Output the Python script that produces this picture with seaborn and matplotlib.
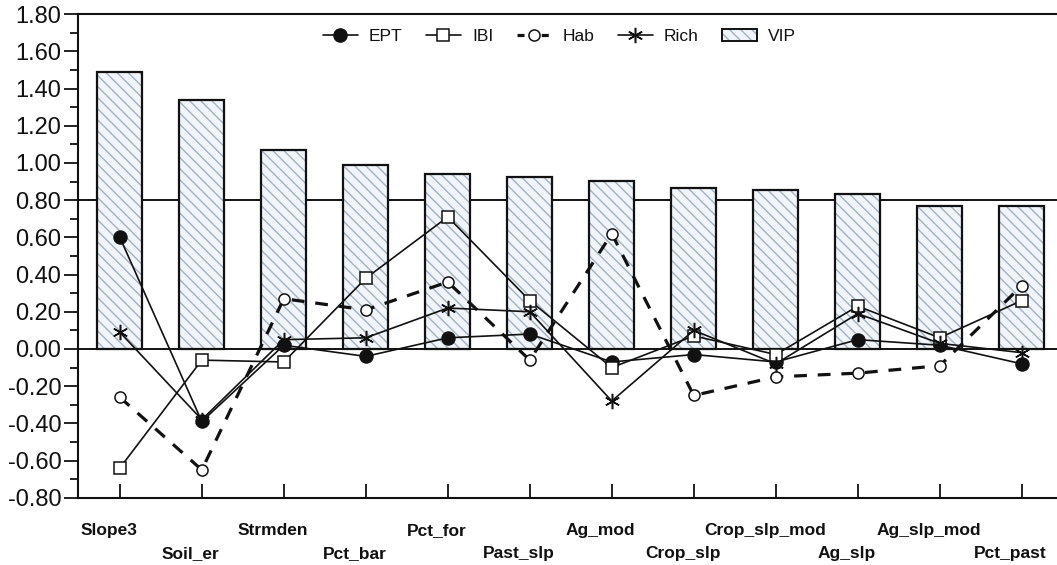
import numpy as np
import pandas as pd
import matplotlib
matplotlib.use("Agg")
import matplotlib.pyplot as plt
import matplotlib.patches as mpatches
import matplotlib.lines as mlines
import matplotlib.transforms as mtransforms
from matplotlib.legend_handler import HandlerTuple
from matplotlib.ticker import MultipleLocator, FormatStrFormatter
import seaborn as sns

# Predictor variables (ordered by VIP)
predictors = ["Slope3", "Soil_er", "Strmden", "Pct_bar", "Pct_for", "Past_slp",
              "Ag_mod", "Crop_slp", "Crop_slp_mod", "Ag_slp", "Ag_slp_mod", "Pct_past"]

# Variable importance in projection
vip = [1.49, 1.34, 1.07, 0.99, 0.94, 0.925, 0.905, 0.865, 0.852, 0.834, 0.77, 0.77]

# PLS coefficients for each response
ept = [0.60, -0.39, 0.02, -0.04, 0.06, 0.08, -0.07, -0.03, -0.07, 0.05, 0.02, -0.08]
ibi = [-0.64, -0.06, -0.07, 0.38, 0.71, 0.26, -0.10, 0.07, -0.03, 0.23, 0.06, 0.26]
hab = [-0.26, -0.65, 0.27, 0.21, 0.36, -0.06, 0.62, -0.25, -0.15, -0.13, -0.09, 0.34]
rich = [0.09, -0.38, 0.05, 0.06, 0.22, 0.20, -0.28, 0.10, -0.08, 0.19, 0.03, -0.02]

sns.set_style("ticks")
plt.rcParams["font.family"] = ["Liberation Sans", "DejaVu Sans"]
plt.rcParams["axes.unicode_minus"] = False
plt.rcParams["hatch.linewidth"] = 1.0

fig = plt.figure(figsize=(10.57, 5.65), dpi=100)
ax = fig.add_axes([0.0738, 0.119, 0.9262, 0.856])

bar_face = "#f1f5f9"
hatch_col = "#a3b1c0"
ink = "#111111"
hab_dash = (0, (4, 3.4))

# reference lines at 0 and at the VIP threshold of 0.8
ax.axhline(0.0, color=ink, lw=1.4, zorder=1)
ax.axhline(0.8, color=ink, lw=1.4, zorder=1)

df_vip = pd.DataFrame({"var": predictors, "vip": vip})

# hatched fill of the VIP bars
sns.barplot(data=df_vip, x="var", y="vip", order=predictors, color=bar_face,
            width=0.55, linewidth=0, edgecolor=hatch_col, saturation=1,
            ax=ax, zorder=2)
for p in ax.patches:
    p.set_hatch("\\\\\\")
    p.set_edgecolor(hatch_col)
    p.set_linewidth(0)
# black outline of the VIP bars
sns.barplot(data=df_vip, x="var", y="vip", order=predictors, fill=False,
            width=0.55, linewidth=1.6, edgecolor=ink, ax=ax, zorder=2.5)

common = dict(x=predictors, order=predictors, color=ink, ax=ax, errorbar=None)
sns.pointplot(y=ept, marker="o", markersize=9.5, markerfacecolor=ink,
              markeredgecolor=ink, linewidth=1.2, linestyle="-", **common)
sns.pointplot(y=ibi, marker="s", markersize=8, markerfacecolor="white",
              markeredgecolor=ink, markeredgewidth=1.1, linewidth=1.2,
              linestyle="-", **common)
sns.pointplot(y=hab, marker="o", markersize=8, markerfacecolor="white",
              markeredgecolor=ink, markeredgewidth=1.1, linewidth=2.3,
              linestyle=hab_dash, **common)
sns.pointplot(y=rich, marker=(6, 2, 0), markersize=11, markeredgecolor=ink,
              markeredgewidth=1.1, linewidth=1.2, linestyle="-", **common)

for ln in ax.lines[2:]:
    ln.set_zorder(4)

ax.set_xlim(-0.51, 11.43)
ax.set_ylim(-0.8, 1.8)
ax.set_xlabel("")
ax.set_ylabel("")

# y axis: major ticks every 0.2, minor every 0.1
ax.yaxis.set_major_locator(MultipleLocator(0.2))
ax.yaxis.set_minor_locator(MultipleLocator(0.1))
ax.yaxis.set_major_formatter(FormatStrFormatter("%.2f"))
ax.tick_params(axis="y", which="major", direction="out", length=10, width=1.3,
               labelsize=17, pad=2, colors=ink)
ax.tick_params(axis="y", which="minor", direction="out", length=6, width=1.3,
               colors=ink)

# x axis: inward ticks, labels staggered on two rows
ax.set_xticks(range(len(predictors)))
ax.set_xticklabels(predictors, fontweight="bold", fontsize=12.5)
ax.tick_params(axis="x", which="major", direction="in", length=10, width=1.3,
               colors=ink)
for i, tk in enumerate(ax.xaxis.get_major_ticks()):
    tk.set_pad(18 if i % 2 == 0 else 35)
shift = mtransforms.ScaledTranslation(-11 / 100, 0, fig.dpi_scale_trans)
for lbl in ax.get_xticklabels():
    lbl.set_transform(lbl.get_transform() + shift)

for side in ["left", "bottom", "top"]:
    ax.spines[side].set_color(ink)
    ax.spines[side].set_linewidth(1.5)
ax.spines["right"].set_visible(False)

# legend
h_ept = mlines.Line2D([], [], color=ink, lw=1.2, marker="o", markersize=9.5,
                      markerfacecolor=ink)
h_ibi = mlines.Line2D([], [], color=ink, lw=1.2, marker="s", markersize=8,
                      markerfacecolor="white", markeredgewidth=1.1)
h_hab = mlines.Line2D([], [], color=ink, lw=2.3, marker="o", markersize=8,
                      markerfacecolor="white", markeredgewidth=1.1,
                      linestyle=(0, (2.2, 1.6)))
h_rich = mlines.Line2D([], [], color=ink, lw=1.2, marker=(6, 2, 0),
                       markersize=11, markeredgewidth=1.1)
h_vip_fill = mpatches.Patch(facecolor=bar_face, edgecolor=hatch_col,
                            hatch="\\\\\\", linewidth=0)
h_vip_edge = mpatches.Patch(facecolor="none", edgecolor=ink, linewidth=1.4)
leg = ax.legend([h_ept, h_ibi, h_hab, h_rich, (h_vip_fill, h_vip_edge)],
                ["EPT", "IBI", "Hab", "Rich", "VIP"],
                handler_map={tuple: HandlerTuple(ndivide=1)},
                loc="upper center", bbox_to_anchor=(0.492, 1.002), ncol=5,
                frameon=False, fontsize=12.5, handlelength=2.0,
                handletextpad=0.65, columnspacing=1.35)
for t in leg.get_texts():
    t.set_color(ink)

fig.savefig("out.png", dpi=100)
